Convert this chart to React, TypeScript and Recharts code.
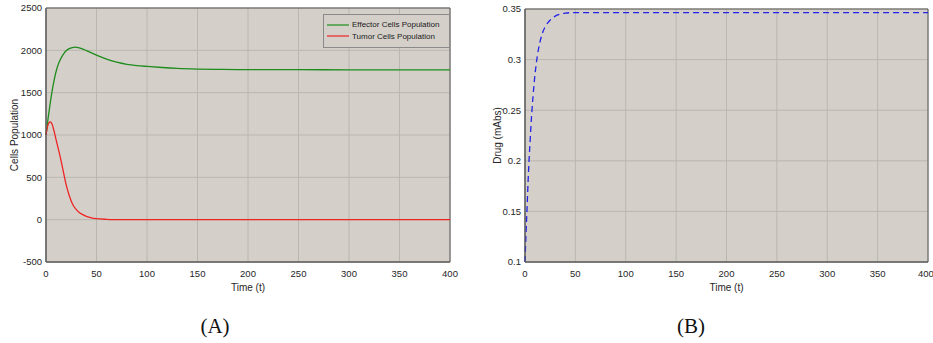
import React from "react";
import {
  LineChart,
  Line,
  XAxis,
  YAxis,
  CartesianGrid,
  Legend,
  ReferenceArea,
} from "recharts";

// panel A: cell populations
const timeA = [0, 2, 4, 6, 8, 10, 12, 14, 16, 18, 20, 23, 26, 29, 32, 36, 40, 45, 50, 60, 70, 80, 90, 100, 115, 130, 150, 175, 200, 250, 300, 350, 400];
const effector = [1000, 1190, 1360, 1515, 1645, 1750, 1830, 1885, 1932, 1968, 1995, 2020, 2033, 2038, 2033, 2018, 1997, 1970, 1944, 1897, 1860, 1835, 1820, 1810, 1797, 1787, 1779, 1774, 1772, 1771, 1770, 1770, 1770];
const tumor = [1000, 1120, 1155, 1130, 1045, 945, 845, 745, 635, 520, 410, 285, 192, 132, 94, 62, 40, 22, 12, 4, 1, 0, 0, 0, 0, 0, 0, 0, 0, 0, 0, 0, 0];

// panel B: drug concentration
const timeB = [0, 1, 2, 3, 4, 5, 6, 8, 10, 12, 15, 18, 21, 25, 30, 35, 40, 50, 100, 200, 300, 400];
const drug = [0.1, 0.128, 0.152, 0.178, 0.2, 0.218, 0.236, 0.264, 0.286, 0.302, 0.318, 0.328, 0.334, 0.339, 0.343, 0.345, 0.346, 0.3465, 0.3465, 0.3465, 0.3465, 0.3465];

const timeTicks = [0, 50, 100, 150, 200, 250, 300, 350, 400];
const cellTicks = [-500, 0, 500, 1000, 1500, 2000, 2500];
const drugTicks = [0.1, 0.15, 0.2, 0.25, 0.3, 0.35];

const dataA = timeA.map((t, i) => ({ t, effector: effector[i], tumor: tumor[i] }));
const dataB = timeB.map((t, i) => ({ t, drug: drug[i] }));

const FONT = "'Liberation Sans', Arial, sans-serif";
const BG = "#d4d0c9";
const GRID = "#bab6b0";
const FRAME = "#5a5a5a";
const tickStyle = { fontSize: 9.5, fill: "#262626", fontFamily: FONT };
const titleStyle = { fontSize: 10, fill: "#262626", fontFamily: FONT };

function LegendBox(props: any) {
  const items = props.payload || [];
  return (
    <div
      style={{
        border: "1px solid #8a8a8a",
        background: BG,
        padding: "4px 0 5px 3px",
        fontFamily: FONT,
        fontSize: 8,
        color: "#1a1a1a",
      }}
    >
      {items.map((p: any) => (
        <div key={p.value} style={{ display: "flex", alignItems: "center", height: 11.5 }}>
          <svg width={22} height={4} style={{ marginRight: 3 }}>
            <line x1={0} y1={2} x2={22} y2={2} stroke={p.color} strokeWidth={1.2} />
          </svg>
          <span>{p.value}</span>
        </div>
      ))}
    </div>
  );
}

// inward MATLAB-style tick marks on all four sides
function innerTicks(xTicks: number[], xDomain: number[], yTicks: number[], yDomain: number[]) {
  const common = {
    tick: false as const,
    tickSize: 3,
    tickLine: { stroke: FRAME },
    axisLine: false,
    mirror: true,
  };
  return [
    <XAxis key="xb" xAxisId="xb" type="number" orientation="bottom" domain={xDomain} ticks={xTicks} height={0} {...common} />,
    <XAxis key="xt" xAxisId="xt" type="number" orientation="top" domain={xDomain} ticks={xTicks} height={0} {...common} />,
    <YAxis key="yl" yAxisId="yl" type="number" orientation="left" domain={yDomain} ticks={yTicks} width={0} {...common} />,
    <YAxis key="yr" yAxisId="yr" type="number" orientation="right" domain={yDomain} ticks={yTicks} width={0} {...common} />,
  ];
}

export default function App() {
  return (
    <div
      style={{
        position: "fixed",
        left: 0,
        top: 0,
        width: 933,
        height: 343,
        background: "#fff",
        overflow: "hidden",
      }}
    >
      <div style={{ position: "absolute", left: 0, top: 0 }}>
        <LineChart width={460} height={294} data={dataA} margin={{ top: 8, right: 10, bottom: 0, left: 0 }}>
          <CartesianGrid stroke={GRID} fill={BG} fillOpacity={1} />
          <XAxis
            type="number"
            dataKey="t"
            domain={[0, 400]}
            ticks={timeTicks}
            tick={tickStyle}
            tickLine={false}
            tickSize={4}
            tickMargin={4}
            axisLine={{ stroke: FRAME }}
            height={32}
            label={{ value: "Time (t)", position: "insideBottom", offset: 3, style: titleStyle }}
          />
          <YAxis
            type="number"
            domain={[-500, 2500]}
            ticks={cellTicks}
            tick={tickStyle}
            tickLine={false}
            tickSize={3}
            tickMargin={1}
            axisLine={{ stroke: FRAME }}
            width={46}
            label={{
              value: "Cells Population",
              angle: -90,
              position: "insideLeft",
              offset: 14,
              style: { ...titleStyle, textAnchor: "middle" },
            }}
          />
          {innerTicks(timeTicks, [0, 400], cellTicks, [-500, 2500])}
          <ReferenceArea x1={0} x2={400} y1={-500} y2={2500} fill="none" stroke={FRAME} strokeOpacity={1} />
          <Legend
            layout="horizontal"
            verticalAlign="middle"
            align="center"
            content={<LegendBox />}
            wrapperStyle={{ top: 14, left: 323, width: 127, height: "auto" }}
          />
          <Line type="monotone" dataKey="effector" name="Effector Cells Population" stroke="#1d8c1d" strokeWidth={1.3} dot={false} isAnimationActive={false} />
          <Line type="monotone" dataKey="tumor" name="Tumor Cells Population" stroke="#ee2424" strokeWidth={1.3} dot={false} isAnimationActive={false} />
        </LineChart>
      </div>

      <div style={{ position: "absolute", left: 480, top: 0 }}>
        <LineChart width={453} height={294} data={dataB} margin={{ top: 9, right: 5, bottom: 0, left: 0 }}>
          <CartesianGrid stroke={GRID} fill={BG} fillOpacity={1} />
          <XAxis
            type="number"
            dataKey="t"
            domain={[0, 400]}
            ticks={timeTicks}
            tick={tickStyle}
            tickLine={false}
            tickSize={4}
            tickMargin={4}
            axisLine={{ stroke: FRAME }}
            height={32}
            label={{ value: "Time (t)", position: "insideBottom", offset: 3, style: titleStyle }}
          />
          <YAxis
            type="number"
            domain={[0.1, 0.35]}
            ticks={drugTicks}
            tick={tickStyle}
            tickFormatter={(v: number) => String(v)}
            tickLine={false}
            tickSize={3}
            tickMargin={1}
            axisLine={{ stroke: FRAME }}
            width={45}
            label={{
              value: "Drug (mAbs)",
              angle: -90,
              position: "insideLeft",
              offset: 17,
              style: { ...titleStyle, textAnchor: "middle" },
            }}
          />
          {innerTicks(timeTicks, [0, 400], drugTicks, [0.1, 0.35])}
          <ReferenceArea x1={0} x2={400} y1={0.1} y2={0.35} fill="none" stroke={FRAME} strokeOpacity={1} />
          <Line type="monotone" dataKey="drug" name="Drug" stroke="#2323e6" strokeWidth={1.3} strokeDasharray="6 4" dot={false} isAnimationActive={false} />
        </LineChart>
      </div>

      <div
        style={{
          position: "absolute",
          left: 165,
          top: 313,
          width: 100,
          textAlign: "center",
          fontFamily: "'Liberation Serif', 'DejaVu Serif', serif",
          fontSize: 21,
          lineHeight: "26px",
          color: "#111",
        }}
      >
        (A)
      </div>
      <div
        style={{
          position: "absolute",
          left: 641,
          top: 313,
          width: 100,
          textAlign: "center",
          fontFamily: "'Liberation Serif', 'DejaVu Serif', serif",
          fontSize: 21,
          lineHeight: "26px",
          color: "#111",
        }}
      >
        (B)
      </div>
    </div>
  );
}
